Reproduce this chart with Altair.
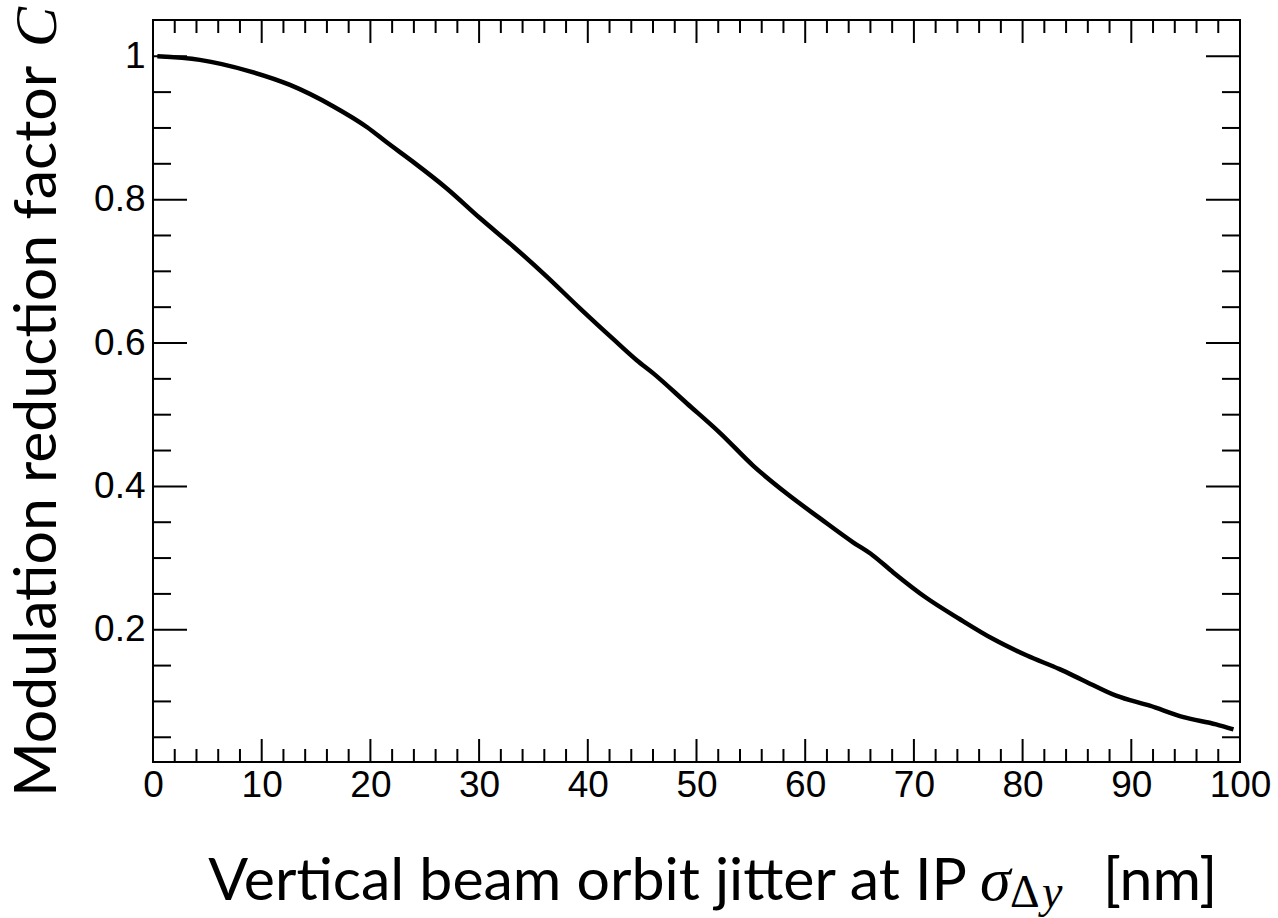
import altair as alt
import pandas as pd

# ---- data ----
x_nm = [0.4, 4.3, 8.9, 12.6, 16.6, 19.7, 21.5, 23.9, 27.0, 30.1, 33.2, 36.2, 39.3,
        42.3, 44.5, 46.0, 49.1, 52.2, 55.2, 58.3, 61.4, 64.4, 66.2, 68.1, 71.1,
        74.2, 77.3, 80.4, 83.4, 85.5, 88.6, 91.7, 94.8, 97.8, 99.4]
c_val = [1.000, 0.995, 0.979, 0.960, 0.930, 0.901, 0.880, 0.853, 0.816, 0.774,
         0.734, 0.693, 0.648, 0.606, 0.576, 0.558, 0.516, 0.474, 0.429, 0.390,
         0.355, 0.322, 0.304, 0.280, 0.245, 0.215, 0.187, 0.164, 0.145, 0.130,
         0.108, 0.094, 0.078, 0.068, 0.061]

x_labels = [0, 10, 20, 30, 40, 50, 60, 70, 80, 90, 100]
y_labels = [0.2, 0.4, 0.6, 0.8, 1.0]
x_major = [10, 20, 30, 40, 50, 60, 70, 80, 90]
x_minor = [2, 4, 6, 8, 12, 14, 16, 18, 22, 24, 26, 28, 32, 34, 36, 38, 42, 44, 46, 48,
           52, 54, 56, 58, 62, 64, 66, 68, 72, 74, 76, 78, 82, 84, 86, 88, 92, 94, 96, 98]
y_major = [0.2, 0.4, 0.6, 0.8, 1.0]
y_minor = [0.05, 0.10, 0.15, 0.25, 0.30, 0.35, 0.45, 0.50, 0.55, 0.65, 0.70, 0.75,
           0.85, 0.90, 0.95]

x_title_main = "Vertical beam orbit jitter at IP"
x_title_sigma = "σ"
x_title_delta = "Δ"
x_title_y = "y"
x_title_unit = "[nm]"
y_title_main = "Modulation reduction factor"
y_title_c = "C"

# ---- layout ----
W, H = 1087, 742
X_DOM = [0, 100]
Y_DOM = [0.0155, 1.0506]
TITLE_FONT = "Lato"
TITLE_SIZE = 59

xs = alt.Scale(domain=X_DOM, nice=False, zero=False)
ys = alt.Scale(domain=Y_DOM, nice=False, zero=False)

curve_df = pd.DataFrame({"x": x_nm, "c": c_val})

curve = alt.Chart(curve_df).mark_line(
    color="black", strokeWidth=4.5, interpolate="monotone"
).encode(
    x=alt.X("x:Q", scale=xs, axis=alt.Axis(
        values=x_labels, ticks=False, tickSize=0, domain=False, grid=False, title=None,
        labelFont="Liberation Sans", labelFontSize=37, labelColor="black",
        labelPadding=5, labelFlush=False, labelOverlap=False)),
    y=alt.Y("c:Q", scale=ys, axis=alt.Axis(
        values=y_labels, format="~g", ticks=False, tickSize=0, domain=False, grid=False,
        title=None, labelFont="Liberation Sans", labelFontSize=37, labelColor="black",
        labelPadding=8, labelFlush=False, labelOverlap=False)),
)


def xticks(vals, length):
    df = pd.DataFrame({"v": vals})
    bottom = alt.Chart(df).mark_rule(color="black", strokeWidth=2).encode(
        x=alt.X("v:Q", scale=xs, axis=None), y=alt.value(H), y2=alt.value(H - length))
    top = alt.Chart(df).mark_rule(color="black", strokeWidth=2).encode(
        x=alt.X("v:Q", scale=xs, axis=None), y=alt.value(0), y2=alt.value(length))
    return [bottom, top]


def yticks(vals, length):
    df = pd.DataFrame({"v": vals})
    left = alt.Chart(df).mark_rule(color="black", strokeWidth=2).encode(
        y=alt.Y("v:Q", scale=ys, axis=None), x=alt.value(0), x2=alt.value(length))
    right = alt.Chart(df).mark_rule(color="black", strokeWidth=2).encode(
        y=alt.Y("v:Q", scale=ys, axis=None), x=alt.value(W), x2=alt.value(W - length))
    return [left, right]


one = pd.DataFrame({"k": [0]})


def label(text, x, y, **kw):
    return alt.Chart(one).mark_text(text=text, color="black", **kw).encode(
        x=alt.value(x), y=alt.value(y))


xb = 880  # baseline of x title (group coords)
titles = [
    label(x_title_main, 814, xb, align="right", baseline="alphabetic",
          font=TITLE_FONT, fontSize=TITLE_SIZE),
    label(x_title_sigma, 827, xb, align="left", baseline="alphabetic",
          font="Liberation Serif", fontStyle="italic", fontSize=62),
    label(x_title_delta, 857, xb + 7, align="left", baseline="alphabetic",
          font="Liberation Serif", fontSize=46),
    label(x_title_y, 889, xb + 7, align="left", baseline="alphabetic",
          font="Liberation Serif", fontStyle="italic", fontSize=46),
    label(x_title_unit, 950, xb, align="left", baseline="alphabetic",
          font=TITLE_FONT, fontSize=TITLE_SIZE),
    label(y_title_main, -97, 777, align="left", baseline="alphabetic", angle=270,
          font=TITLE_FONT, fontSize=TITLE_SIZE),
    label(y_title_c, -97, 27, align="left", baseline="alphabetic", angle=270,
          font="Liberation Serif", fontStyle="italic", fontSize=60),
]

layers = [curve] + xticks(x_major, 23) + xticks(x_minor, 13) \
    + yticks(y_major, 34) + yticks(y_minor, 18) + titles

chart = alt.layer(*layers).resolve_axis(
    x="independent", y="independent"
).properties(
    width=W, height=H,
    autosize=alt.AutoSizeParams(type="none"),
    padding={"left": 153, "top": 20, "right": 38, "bottom": 156},
    background="white",
).configure_view(stroke="black", strokeWidth=2)

chart.save("out.html", embed_options={"renderer": "svg", "actions": False})
